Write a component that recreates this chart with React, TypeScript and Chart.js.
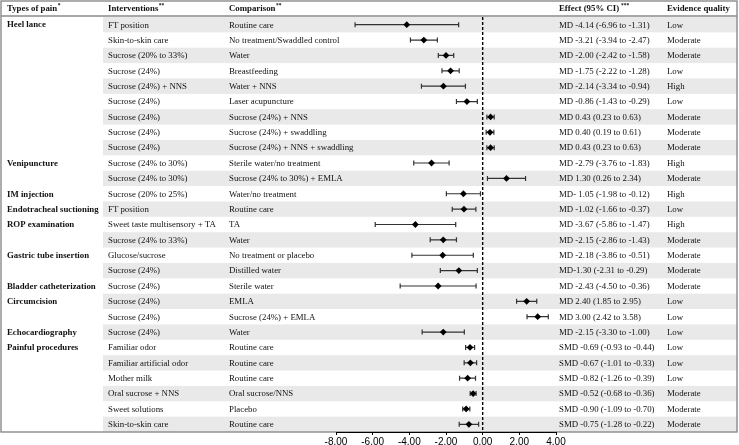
import React, { useEffect, useRef } from "react";
import { Chart, registerables } from "chart.js";

Chart.register(...registerables);

const painTypes = [
  "Heel lance", "", "", "", "", "", "", "", "",
  "Venipuncture", "",
  "IM injection",
  "Endotracheal suctioning",
  "ROP examination", "",
  "Gastric tube insertion", "",
  "Bladder catheterization",
  "Circumcision", "",
  "Echocardiography",
  "Painful procedures", "", "", "", "", "",
];

const interventions = [
  "FT position", "Skin-to-skin care", "Sucrose (20% to 33%)", "Sucrose (24%)",
  "Sucrose (24%) + NNS", "Sucrose (24%)", "Sucrose (24%)", "Sucrose (24%)", "Sucrose (24%)",
  "Sucrose (24% to 30%)", "Sucrose (24% to 30%)",
  "Sucrose (20% to 25%)",
  "FT position",
  "Sweet taste multisensory + TA", "Sucrose (24% to 33%)",
  "Glucose/sucrose", "Sucrose (24%)",
  "Sucrose (24%)",
  "Sucrose (24%)", "Sucrose (24%)",
  "Sucrose (24%)",
  "Familiar odor", "Familiar artificial odor", "Mother milk", "Oral sucrose + NNS",
  "Sweet solutions", "Skin-to-skin care",
];

const comparisons = [
  "Routine care", "No treatment/Swaddled control", "Water", "Breastfeeding",
  "Water + NNS", "Laser acupuncture", "Sucrose (24%) + NNS", "Sucrose (24%) + swaddling",
  "Sucrose (24%) + NNS + swaddling",
  "Sterile water/no treatment", "Sucrose (24% to 30%) + EMLA",
  "Water/no treatment",
  "Routine care",
  "TA", "Water",
  "No treatment or placebo", "Distilled water",
  "Sterile water",
  "EMLA", "Sucrose (24%) + EMLA",
  "Water",
  "Routine care", "Routine care", "Routine care", "Oral sucrose/NNS", "Placebo", "Routine care",
];

const estimates = [
  -4.14, -3.21, -2.0, -1.75, -2.14, -0.86, 0.43, 0.4, 0.43,
  -2.79, 1.3, -1.05, -1.02, -3.67, -2.15, -2.18, -1.3, -2.43,
  2.4, 3.0, -2.15, -0.69, -0.67, -0.82, -0.52, -0.9, -0.75,
];
const lowerCI = [
  -6.96, -3.94, -2.42, -2.22, -3.34, -1.43, 0.23, 0.19, 0.23,
  -3.76, 0.26, -1.98, -1.66, -5.86, -2.86, -3.86, -2.31, -4.5,
  1.85, 2.42, -3.3, -0.93, -1.01, -1.26, -0.68, -1.09, -1.28,
];
const upperCI = [
  -1.31, -2.47, -1.58, -1.28, -0.94, -0.29, 0.63, 0.61, 0.63,
  -1.83, 2.34, -0.12, -0.37, -1.47, -1.43, -0.51, -0.29, -0.36,
  2.95, 3.58, -1.0, -0.44, -0.33, -0.39, -0.36, -0.7, -0.22,
];

const effectLabels = [
  "MD -4.14 (-6.96 to -1.31)", "MD -3.21 (-3.94 to -2.47)", "MD -2.00 (-2.42 to -1.58)",
  "MD -1.75 (-2.22 to -1.28)", "MD -2.14 (-3.34 to -0.94)", "MD -0.86 (-1.43 to -0.29)",
  "MD 0.43 (0.23 to 0.63)", "MD 0.40 (0.19 to 0.61)", "MD 0.43 (0.23 to 0.63)",
  "MD -2.79 (-3.76 to -1.83)", "MD 1.30 (0.26 to 2.34)",
  "MD- 1.05 (-1.98 to -0.12)",
  "MD -1.02 (-1.66 to -0.37)",
  "MD -3.67 (-5.86 to -1.47)", "MD -2.15 (-2.86 to -1.43)",
  "MD -2.18 (-3.86 to -0.51)", "MD-1.30 (-2.31 to -0.29)",
  "MD -2.43 (-4.50 to -0.36)",
  "MD 2.40 (1.85 to 2.95)", "MD 3.00 (2.42 to 3.58)",
  "MD -2.15 (-3.30 to -1.00)",
  "SMD -0.69 (-0.93 to -0.44)", "SMD -0.67 (-1.01 to -0.33)", "SMD -0.82 (-1.26 to -0.39)",
  "SMD -0.52 (-0.68 to -0.36)", "SMD -0.90 (-1.09 to -0.70)", "SMD -0.75 (-1.28 to -0.22)",
];

const evidenceQuality = [
  "Low", "Moderate", "Moderate", "Low", "High", "Low", "Moderate", "Moderate", "Moderate",
  "High", "Moderate", "High", "Low", "High", "Moderate", "Moderate", "Moderate", "Moderate",
  "Low", "Low", "Low", "Low", "Low", "Low", "Moderate", "Moderate", "Moderate",
];

const xTicks = [-8, -6, -4, -2, 0, 2, 4];

const headers = [
  { text: "Types of pain", sup: "*" },
  { text: "Interventions", sup: "**" },
  { text: "Comparison", sup: "**" },
  { text: "Effect (95% CI)", sup: " ***" },
  { text: "Evidence quality", sup: "" },
];

const W = 739;
const H = 445;
const COL_X = [7, 108, 229, 559, 667];
const BAND_LEFT = 103;
const TABLE_LEFT = 1;
const TABLE_RIGHT = 737;
const TABLE_TOP = 1;
const HEADER_BOTTOM = 16;
const SERIF = '"Liberation Serif", "Times New Roman", serif';
const FS = 8.8;

const tablePlugin = {
  id: "forestTable",
  beforeDraw(chart: any) {
    const { ctx, chartArea, scales } = chart;
    const y = scales.y;
    ctx.save();
    ctx.fillStyle = "#ffffff";
    ctx.fillRect(0, 0, W, H);
    // alternating row bands
    ctx.fillStyle = "#e9e9e9";
    for (let i = 0; i < estimates.length; i += 2) {
      const t = y.getPixelForValue(i - 0.5);
      const b = y.getPixelForValue(i + 0.5);
      ctx.fillRect(BAND_LEFT, t, TABLE_RIGHT - BAND_LEFT, b - t);
    }
    // table borders
    ctx.strokeStyle = "#8a8a8a";
    ctx.lineWidth = 1.4;
    ctx.strokeRect(TABLE_LEFT, TABLE_TOP, TABLE_RIGHT - TABLE_LEFT, chartArea.bottom - TABLE_TOP);
    ctx.beginPath();
    ctx.moveTo(TABLE_LEFT, HEADER_BOTTOM);
    ctx.lineTo(TABLE_RIGHT, HEADER_BOTTOM);
    ctx.stroke();
    // header text
    ctx.fillStyle = "#111";
    ctx.textBaseline = "middle";
    ctx.textAlign = "left";
    const hy = (TABLE_TOP + HEADER_BOTTOM) / 2 + 0.5;
    headers.forEach((h, c) => {
      ctx.font = `bold ${FS}px ${SERIF}`;
      ctx.fillText(h.text, COL_X[c], hy);
      if (h.sup) {
        const w = ctx.measureText(h.text).width;
        ctx.font = `bold 5.5px ${SERIF}`;
        ctx.fillText(h.sup, COL_X[c] + w + 0.5, hy - 3);
      }
    });
    // row text
    for (let i = 0; i < estimates.length; i++) {
      const cy = y.getPixelForValue(i) + 0.5;
      if (painTypes[i]) {
        ctx.font = `bold ${FS}px ${SERIF}`;
        ctx.fillText(painTypes[i], COL_X[0], cy);
      }
      ctx.font = `${FS}px ${SERIF}`;
      ctx.fillText(interventions[i], COL_X[1], cy);
      ctx.fillText(comparisons[i], COL_X[2], cy);
      ctx.fillText(effectLabels[i], COL_X[3], cy);
      ctx.fillText(evidenceQuality[i], COL_X[4], cy);
    }
    ctx.restore();
  },
  beforeDatasetsDraw(chart: any) {
    const { ctx, chartArea, scales } = chart;
    const x = scales.x;
    const y = scales.y;
    ctx.save();
    // zero line
    const zx = x.getPixelForValue(0);
    ctx.strokeStyle = "#000";
    ctx.lineWidth = 1.4;
    ctx.setLineDash([3, 2]);
    ctx.beginPath();
    ctx.moveTo(zx, chartArea.top);
    ctx.lineTo(zx, chartArea.bottom);
    ctx.stroke();
    ctx.setLineDash([]);
    // CI bars
    ctx.strokeStyle = "#333";
    ctx.lineWidth = 1.2;
    for (let i = 0; i < estimates.length; i++) {
      const cy = y.getPixelForValue(i);
      const l = x.getPixelForValue(lowerCI[i]);
      const r = x.getPixelForValue(upperCI[i]);
      ctx.beginPath();
      ctx.moveTo(l, cy);
      ctx.lineTo(r, cy);
      ctx.moveTo(l, cy - 2.5);
      ctx.lineTo(l, cy + 2.5);
      ctx.moveTo(r, cy - 2.5);
      ctx.lineTo(r, cy + 2.5);
      ctx.stroke();
    }
    ctx.restore();
  },
};

export default function App() {
  const ref = useRef<HTMLCanvasElement | null>(null);
  useEffect(() => {
    document.body.style.margin = "0";
    const canvas = ref.current;
    if (!canvas) return;
    const chart = new Chart(canvas, {
      type: "scatter",
      data: {
        datasets: [
          {
            data: estimates.map((v, i) => ({ x: v, y: i })),
            pointStyle: "rectRot",
            pointRadius: 3.4,
            backgroundColor: "#000",
            borderColor: "#000",
            borderWidth: 0,
          },
        ],
      },
      options: {
        animation: false,
        responsive: false,
        devicePixelRatio: 1,
        layout: { padding: { left: 336, right: W - 556, top: 17, bottom: 0 } },
        plugins: { legend: { display: false }, tooltip: { enabled: false } },
        scales: {
          x: {
            type: "linear",
            min: -8,
            max: 4,
            afterBuildTicks: (scale: any) => {
              scale.ticks = xTicks.map((v) => ({ value: v }));
            },
            afterFit: (scale: any) => {
              scale.height = 13;
            },
            ticks: {
              callback: (v: any) => Number(v).toFixed(2),
              font: { family: '"Liberation Sans", Arial, sans-serif', size: 10 },
              color: "#000",
              padding: 1,
              maxRotation: 0,
            },
            grid: { drawOnChartArea: false, tickLength: 3, color: "#000" },
            border: { display: true, color: "#000", width: 1 },
          },
          y: {
            type: "linear",
            min: -0.5,
            max: estimates.length - 0.5,
            reverse: true,
            display: false,
          },
        },
      },
      plugins: [tablePlugin],
    });
    return () => chart.destroy();
  }, []);
  return (
    <div style={{ width: W, height: H }}>
      <canvas ref={ref} width={W} height={H} style={{ display: "block" }} />
    </div>
  );
}
